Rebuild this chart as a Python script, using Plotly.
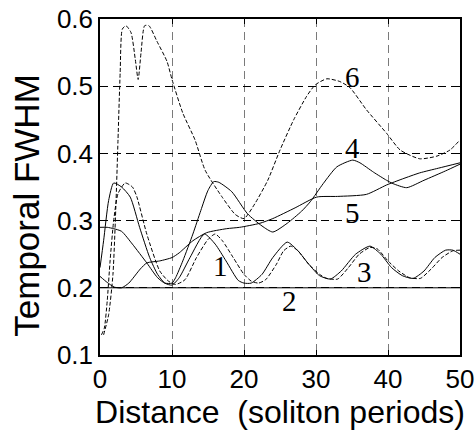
import plotly.graph_objects as go

# ---- data (distance in soliton periods, FWHM) ----
x1 = [0, 0.5, 1.2, 1.9, 3, 4.2, 5.5, 6.9, 8, 9, 10, 11, 12.5, 14.5, 16, 17.5, 19.2, 20, 21, 22.5, 24, 26,
      27.5, 29, 30.5, 32, 33.5, 35.5, 37.5, 39, 40.5, 42, 43.5, 45, 46.5, 48, 49, 50]
y1 = [0.23, 0.27, 0.33, 0.356, 0.35, 0.335, 0.29, 0.245, 0.22, 0.207, 0.204, 0.215, 0.245, 0.28, 0.265, 0.24,
      0.211, 0.207, 0.207, 0.22, 0.245, 0.268, 0.255, 0.235, 0.218, 0.213, 0.225, 0.25, 0.262, 0.25, 0.23,
      0.218, 0.214, 0.225, 0.245, 0.256, 0.256, 0.25]

x2 = [0, 50]
y2 = [0.2, 0.2]

x3 = [0.2, 0.6, 1.0, 1.4, 1.9, 2.5, 3.5, 4.5, 5.1, 6.5, 8.3, 9.5, 10.5, 11.8, 13.4, 15, 16, 17, 18.5, 20, 21,
      22, 23, 24.5, 25.5, 26.5, 27.5, 29, 30.5, 31.5, 33, 34.5, 36, 37.5, 38.5, 40, 41.5, 43, 44.5, 46, 47.5,
      49, 50]
y3 = [0.13, 0.14, 0.18, 0.24, 0.3, 0.34, 0.356, 0.35, 0.336, 0.28, 0.225, 0.21, 0.205, 0.212, 0.245, 0.272,
      0.28, 0.27, 0.245, 0.22, 0.21, 0.207, 0.212, 0.235, 0.255, 0.262, 0.255, 0.235, 0.22, 0.214, 0.213, 0.23,
      0.25, 0.26, 0.258, 0.24, 0.225, 0.215, 0.214, 0.228, 0.245, 0.255, 0.256]

x4 = [0, 1, 1.9, 3, 4.5, 6.5, 8, 9, 10, 10.5, 11.5, 12.9, 14, 15, 15.8, 16.5, 18.3, 20.5, 22.5, 24, 26, 28,
      29.2, 31, 32.9, 35.1, 36.1, 38, 39.8, 40.7, 42.6, 45, 48, 50]
y4 = [0.29, 0.29, 0.288, 0.284, 0.265, 0.237, 0.215, 0.207, 0.207, 0.215, 0.24, 0.28, 0.315, 0.345, 0.358,
      0.357, 0.343, 0.31, 0.292, 0.283, 0.296, 0.314, 0.328, 0.355, 0.38, 0.39, 0.386, 0.372, 0.36, 0.355,
      0.349, 0.36, 0.374, 0.384]

x5 = [0, 1, 2, 3, 4, 5.6, 6.5, 8.3, 10, 11, 12.9, 14.8, 17.6, 19.4, 22.2, 24, 27.1, 30.1, 33, 37, 39.8, 42,
      44.4, 47, 50]
y5 = [0.217, 0.208, 0.201, 0.2, 0.207, 0.228, 0.237, 0.24, 0.245, 0.252, 0.27, 0.282, 0.288, 0.29, 0.296,
      0.303, 0.319, 0.335, 0.336, 0.339, 0.353, 0.362, 0.371, 0.378, 0.386]

x6 = [0.5, 1.2, 1.8, 2.2, 2.5, 2.8, 3.1, 3.6, 4.3, 4.9, 5.3, 5.7, 6.2, 6.8, 7.9, 9.3, 10, 11.5, 13.2, 14.6,
      16.9, 18.8, 20, 21.5, 23.3, 25, 26.9, 28.7, 29.9, 31.5, 33.3, 34.7, 37, 39.8, 41.7, 44.4, 46.8, 48.6, 50]
y6 = [0.13, 0.16, 0.22, 0.32, 0.42, 0.52, 0.585, 0.59, 0.58, 0.54, 0.51, 0.55, 0.59, 0.59, 0.567, 0.537, 0.51,
      0.46, 0.42, 0.375, 0.336, 0.309, 0.303, 0.325, 0.36, 0.405, 0.45, 0.485, 0.502, 0.511, 0.507, 0.498,
      0.465, 0.43, 0.405, 0.392, 0.396, 0.405, 0.42]

curve_labels = ["1", "2", "3", "4", "5", "6"]
label_x = [16.7, 26.3, 36.8, 35.0, 35.0, 35.0]
label_y = [0.232, 0.18, 0.224, 0.408, 0.311, 0.514]

x_ticks = [0, 10, 20, 30, 40, 50]
y_ticks = [0.1, 0.2, 0.3, 0.4, 0.5, 0.6]

x_title = "Distance\u00a0 (soliton periods)"
y_title = "Temporal FWHM"

series = [
    (x1, y1, "solid"),
    (x2, y2, "solid"),
    (x3, y3, "4px,2px"),
    (x4, y4, "solid"),
    (x5, y5, "solid"),
    (x6, y6, "4px,2px"),
]

fig = go.Figure()
for xs, ys, dash in series:
    fig.add_trace(go.Scatter(
        x=xs, y=ys, mode="lines",
        line=dict(color="black", width=1, dash=dash, shape="spline", smoothing=0.6),
        showlegend=False, hoverinfo="skip",
    ))

for t, lx, ly in zip(curve_labels, label_x, label_y):
    fig.add_annotation(x=lx, y=ly, xref="x", yref="y", text=t, showarrow=False,
                       font=dict(family="Liberation Serif", size=29, color="black"),
                       bgcolor="rgba(0,0,0,0)")

# y-axis title placed as a rotated annotation (slightly below the plot centre, as in the reference)
fig.add_annotation(x=-0.203, y=0.447, xref="paper", yref="paper", text=y_title, textangle=-90,
                   showarrow=False, xanchor="center", yanchor="middle",
                   font=dict(family="Liberation Sans", size=35, color="black"))

fig.update_layout(
    width=475, height=433,
    margin=dict(l=100, r=15, t=19, b=78),
    paper_bgcolor="white", plot_bgcolor="white",
    font=dict(family="Liberation Sans", color="black"),
    xaxis=dict(
        range=[0, 50], tickvals=x_ticks, ticktext=[str(v) for v in x_ticks],
        showline=True, linecolor="black", linewidth=1.5, mirror="ticks",
        ticks="inside", ticklen=5, tickcolor="black",
        showgrid=True, gridcolor="#7a7a7a", gridwidth=1, griddash="8px,5px",
        zeroline=False, tickfont=dict(size=26), automargin=False,
        title=dict(text=x_title, font=dict(size=32), standoff=2),
    ),
    yaxis=dict(
        range=[0.1, 0.6], tickvals=y_ticks, ticktext=[f"{v:.1f}" for v in y_ticks],
        showline=True, linecolor="black", linewidth=1.5, mirror="ticks",
        ticks="inside", ticklen=5, tickcolor="black",
        showgrid=True, gridcolor="black", gridwidth=1, griddash="8px,5px",
        zeroline=False, tickfont=dict(size=26), automargin=False,
    ),
)

fig.write_html("out.html", config={"displayModeBar": False},
               post_script="document.body.style.margin='0';document.body.style.overflow='hidden';")
